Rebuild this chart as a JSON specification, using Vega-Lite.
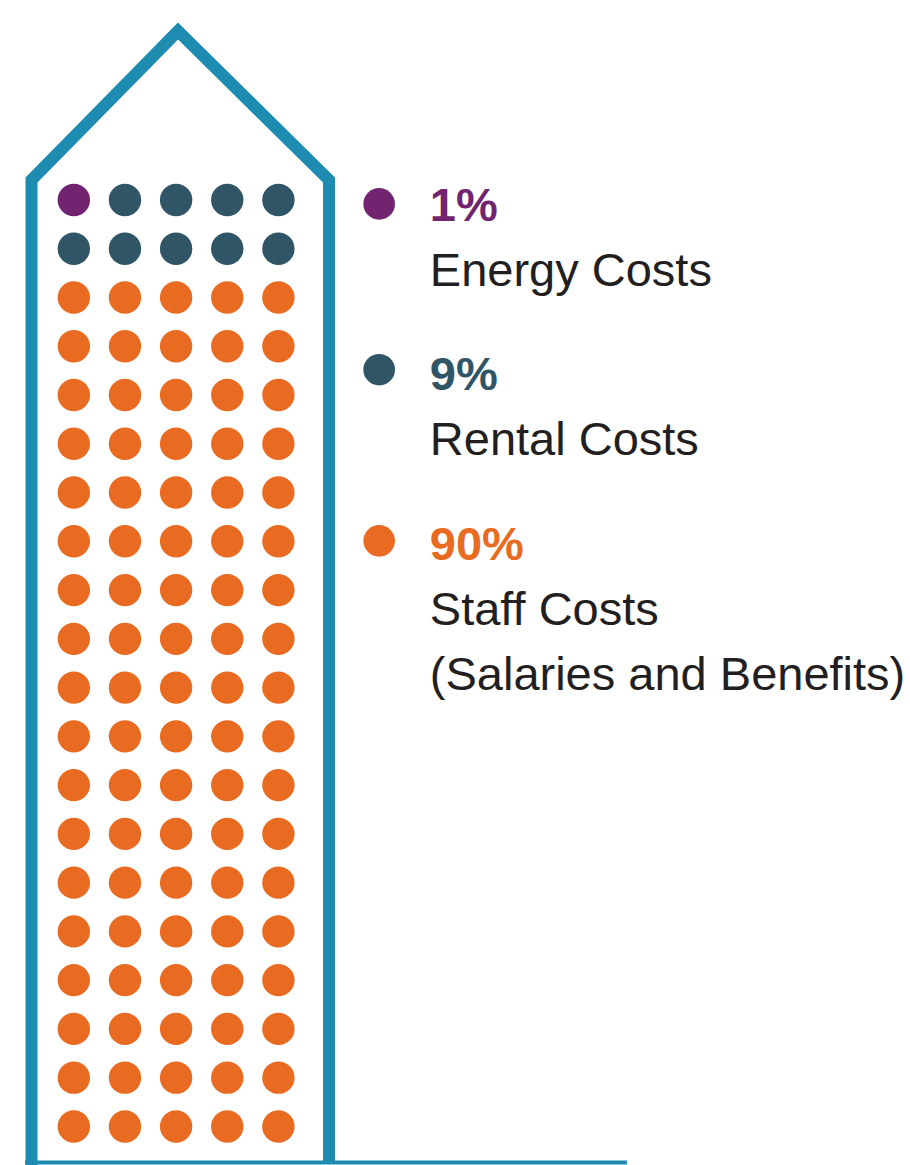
{
  "$schema": "https://vega.github.io/schema/vega-lite/v6.json",
  "width": 910,
  "height": 1165,
  "autosize": {"type": "none"},
  "padding": 0,
  "background": "white",
  "view": {"stroke": null},
  "config": {"font": "Liberation Sans"},
  "datasets": {
    "outline": [
      {"i": 1, "x": 0.173, "y": 20.95},
      {"i": 2, "x": 0.173, "y": 0.59},
      {"i": 3, "x": 3.037, "y": -2.466},
      {"i": 4, "x": 5.989, "y": 0.59},
      {"i": 5, "x": 5.989, "y": 20.729}
    ],
    "ground": [
      {"i": 1, "x": 0.046, "y": 20.739},
      {"i": 2, "x": 11.815, "y": 20.739}
    ],
    "waffle": [
      {"x":1,"y":1,"k":"Energy"},{"x":2,"y":1,"k":"Rental"},{"x":3,"y":1,"k":"Rental"},{"x":4,"y":1,"k":"Rental"},{"x":5,"y":1,"k":"Rental"},
      {"x":1,"y":2,"k":"Rental"},{"x":2,"y":2,"k":"Rental"},{"x":3,"y":2,"k":"Rental"},{"x":4,"y":2,"k":"Rental"},{"x":5,"y":2,"k":"Rental"},
      {"x":1,"y":3,"k":"Staff"},{"x":2,"y":3,"k":"Staff"},{"x":3,"y":3,"k":"Staff"},{"x":4,"y":3,"k":"Staff"},{"x":5,"y":3,"k":"Staff"},
      {"x":1,"y":4,"k":"Staff"},{"x":2,"y":4,"k":"Staff"},{"x":3,"y":4,"k":"Staff"},{"x":4,"y":4,"k":"Staff"},{"x":5,"y":4,"k":"Staff"},
      {"x":1,"y":5,"k":"Staff"},{"x":2,"y":5,"k":"Staff"},{"x":3,"y":5,"k":"Staff"},{"x":4,"y":5,"k":"Staff"},{"x":5,"y":5,"k":"Staff"},
      {"x":1,"y":6,"k":"Staff"},{"x":2,"y":6,"k":"Staff"},{"x":3,"y":6,"k":"Staff"},{"x":4,"y":6,"k":"Staff"},{"x":5,"y":6,"k":"Staff"},
      {"x":1,"y":7,"k":"Staff"},{"x":2,"y":7,"k":"Staff"},{"x":3,"y":7,"k":"Staff"},{"x":4,"y":7,"k":"Staff"},{"x":5,"y":7,"k":"Staff"},
      {"x":1,"y":8,"k":"Staff"},{"x":2,"y":8,"k":"Staff"},{"x":3,"y":8,"k":"Staff"},{"x":4,"y":8,"k":"Staff"},{"x":5,"y":8,"k":"Staff"},
      {"x":1,"y":9,"k":"Staff"},{"x":2,"y":9,"k":"Staff"},{"x":3,"y":9,"k":"Staff"},{"x":4,"y":9,"k":"Staff"},{"x":5,"y":9,"k":"Staff"},
      {"x":1,"y":10,"k":"Staff"},{"x":2,"y":10,"k":"Staff"},{"x":3,"y":10,"k":"Staff"},{"x":4,"y":10,"k":"Staff"},{"x":5,"y":10,"k":"Staff"},
      {"x":1,"y":11,"k":"Staff"},{"x":2,"y":11,"k":"Staff"},{"x":3,"y":11,"k":"Staff"},{"x":4,"y":11,"k":"Staff"},{"x":5,"y":11,"k":"Staff"},
      {"x":1,"y":12,"k":"Staff"},{"x":2,"y":12,"k":"Staff"},{"x":3,"y":12,"k":"Staff"},{"x":4,"y":12,"k":"Staff"},{"x":5,"y":12,"k":"Staff"},
      {"x":1,"y":13,"k":"Staff"},{"x":2,"y":13,"k":"Staff"},{"x":3,"y":13,"k":"Staff"},{"x":4,"y":13,"k":"Staff"},{"x":5,"y":13,"k":"Staff"},
      {"x":1,"y":14,"k":"Staff"},{"x":2,"y":14,"k":"Staff"},{"x":3,"y":14,"k":"Staff"},{"x":4,"y":14,"k":"Staff"},{"x":5,"y":14,"k":"Staff"},
      {"x":1,"y":15,"k":"Staff"},{"x":2,"y":15,"k":"Staff"},{"x":3,"y":15,"k":"Staff"},{"x":4,"y":15,"k":"Staff"},{"x":5,"y":15,"k":"Staff"},
      {"x":1,"y":16,"k":"Staff"},{"x":2,"y":16,"k":"Staff"},{"x":3,"y":16,"k":"Staff"},{"x":4,"y":16,"k":"Staff"},{"x":5,"y":16,"k":"Staff"},
      {"x":1,"y":17,"k":"Staff"},{"x":2,"y":17,"k":"Staff"},{"x":3,"y":17,"k":"Staff"},{"x":4,"y":17,"k":"Staff"},{"x":5,"y":17,"k":"Staff"},
      {"x":1,"y":18,"k":"Staff"},{"x":2,"y":18,"k":"Staff"},{"x":3,"y":18,"k":"Staff"},{"x":4,"y":18,"k":"Staff"},{"x":5,"y":18,"k":"Staff"},
      {"x":1,"y":19,"k":"Staff"},{"x":2,"y":19,"k":"Staff"},{"x":3,"y":19,"k":"Staff"},{"x":4,"y":19,"k":"Staff"},{"x":5,"y":19,"k":"Staff"},
      {"x":1,"y":20,"k":"Staff"},{"x":2,"y":20,"k":"Staff"},{"x":3,"y":20,"k":"Staff"},{"x":4,"y":20,"k":"Staff"},{"x":5,"y":20,"k":"Staff"}
    ],
    "legendDots": [
      {"x": 6.97, "y": 1.08, "k": "Energy"},
      {"x": 6.97, "y": 4.48, "k": "Rental"},
      {"x": 6.97, "y": 7.99, "k": "Staff"}
    ],
    "percents": [
      {"x": 7.96, "y": 1.43, "t": "1%", "k": "Energy"},
      {"x": 7.96, "y": 4.897, "t": "9%", "k": "Rental"},
      {"x": 7.96, "y": 8.383, "t": "90%", "k": "Staff"}
    ],
    "labels": [
      {"x": 7.96, "y": 2.764, "t": "Energy Costs"},
      {"x": 7.96, "y": 6.23, "t": "Rental Costs"},
      {"x": 7.96, "y": 9.716, "t": "Staff Costs"},
      {"x": 7.96, "y": 11.049, "t": "(Salaries and Benefits)"}
    ]
  },
  "encoding": {
    "x": {"field": "x", "type": "quantitative", "scale": {"domain": [-0.443, 17.348], "nice": false, "zero": false}, "axis": null},
    "y": {"field": "y", "type": "quantitative", "scale": {"domain": [-3.102, 20.791], "nice": false, "zero": false, "reverse": true}, "axis": null}
  },
  "layer": [
    {
      "data": {"name": "outline"},
      "mark": {"type": "line", "color": "#1e8cb0", "strokeWidth": 12, "strokeJoin": "miter", "strokeCap": "butt"},
      "encoding": {"order": {"field": "i", "type": "quantitative"}}
    },
    {
      "data": {"name": "ground"},
      "mark": {"type": "line", "color": "#1e8cb0", "strokeWidth": 4, "strokeCap": "butt"},
      "encoding": {"order": {"field": "i", "type": "quantitative"}}
    },
    {
      "data": {"name": "waffle"},
      "mark": {"type": "circle", "size": 1050, "opacity": 1},
      "encoding": {
        "color": {"field": "k", "type": "nominal", "scale": {"domain": ["Energy", "Rental", "Staff"], "range": ["#722470", "#2f5566", "#e86b21"]}, "legend": null}
      }
    },
    {
      "data": {"name": "legendDots"},
      "mark": {"type": "circle", "size": 1000, "opacity": 1},
      "encoding": {
        "color": {"field": "k", "type": "nominal", "legend": null}
      }
    },
    {
      "data": {"name": "percents"},
      "mark": {"type": "text", "align": "left", "baseline": "alphabetic", "fontSize": 47, "fontWeight": "bold", "font": "Liberation Sans"},
      "encoding": {
        "text": {"field": "t"},
        "color": {"field": "k", "type": "nominal", "legend": null}
      }
    },
    {
      "data": {"name": "labels"},
      "mark": {"type": "text", "align": "left", "baseline": "alphabetic", "fontSize": 47, "color": "#231f20", "font": "Liberation Sans"},
      "encoding": {
        "text": {"field": "t"}
      }
    }
  ]
}
